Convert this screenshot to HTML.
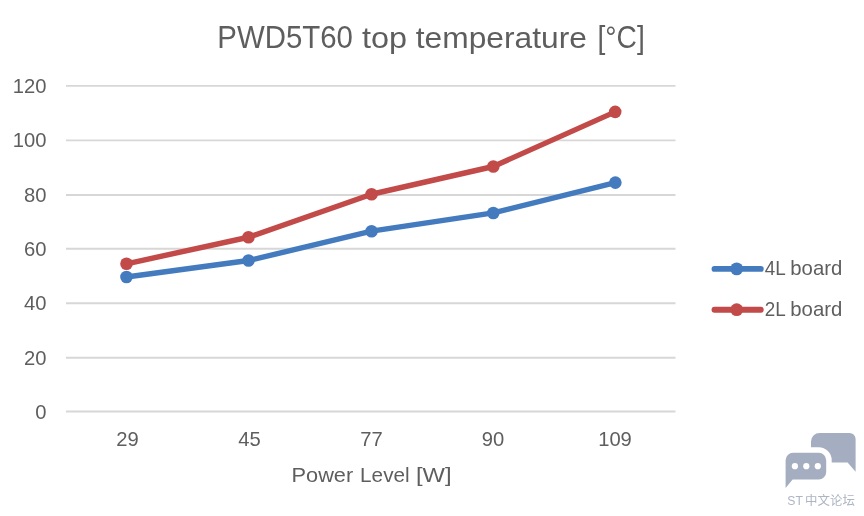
<!DOCTYPE html>
<html>
<head>
<meta charset="utf-8">
<title>PWD5T60 top temperature</title>
<style>
html,body{margin:0;padding:0;background:#fff;}
body{width:864px;height:516px;overflow:hidden;}
svg{display:block;}
text{font-family:"Liberation Sans","Noto Sans CJK SC",sans-serif;fill:#5e5e5e;}
.t{font-size:30.5px;fill:#595959;}
.a{font-size:20.2px;}
.x{font-size:21px;}
.l{font-size:19.8px;}
</style>
</head>
<body>
<svg width="864" height="516" viewBox="0 0 864 516">
<rect width="864" height="516" fill="#fff"/>
<!-- grid -->
<g stroke="#d7d7d7" stroke-width="1.9">
<line x1="66" x2="675.5" y1="85.9" y2="85.9"/>
<line x1="66" x2="675.5" y1="140.4" y2="140.4"/>
<line x1="66" x2="675.5" y1="195" y2="195"/>
<line x1="66" x2="675.5" y1="248.7" y2="248.7"/>
<line x1="66" x2="675.5" y1="303.2" y2="303.2"/>
<line x1="66" x2="675.5" y1="357.7" y2="357.7"/>
<line x1="66" x2="675.5" y1="411.5" y2="411.5"/>
</g>
<!-- title -->
<g class="t">
<text x="217.3" y="47.5" textLength="135.6" lengthAdjust="spacingAndGlyphs">PWD5T60</text>
<text x="361.9" y="47.5" font-size="29.2" textLength="45" lengthAdjust="spacingAndGlyphs">top</text>
<text x="415.8" y="47.5" font-size="29.2" textLength="171.1" lengthAdjust="spacingAndGlyphs">temperature</text>
<text x="597.5" y="47.5" textLength="47.2" lengthAdjust="spacingAndGlyphs">[°C]</text>
</g>
<!-- y labels -->
<g class="a" text-anchor="end">
<text x="46.5" y="93">120</text>
<text x="46.5" y="147.4">100</text>
<text x="46.5" y="202">80</text>
<text x="46.5" y="255.7">60</text>
<text x="46.5" y="310.2">40</text>
<text x="46.5" y="364.7">20</text>
<text x="46.5" y="418.5">0</text>
</g>
<!-- x labels -->
<g class="a" text-anchor="middle">
<text x="127.5" y="446.3">29</text>
<text x="249.5" y="446.3">45</text>
<text x="371.5" y="446.3">77</text>
<text x="493" y="446.3">90</text>
<text x="615" y="446.3">109</text>
</g>
<g class="x">
<text x="291.6" y="482" textLength="61.6" lengthAdjust="spacingAndGlyphs">Power</text>
<text x="360.1" y="482" textLength="49.5" lengthAdjust="spacingAndGlyphs">Level</text>
<text x="415.9" y="482" textLength="35.6" lengthAdjust="spacingAndGlyphs">[W]</text>
</g>
<!-- series -->
<g fill="none" stroke-width="5.4" stroke-linecap="round" stroke-linejoin="round">
<polyline stroke="#447bbf" points="126.5,277.05 248.5,260.55 371.55,231.2 493.3,212.95 615.35,182.6"/>
<polyline stroke="#c24a49" points="126.5,263.8 248.5,237.25 371.55,194.25 493.3,166.5 615.2,111.85"/>
</g>
<g fill="#447bbf">
<circle cx="126.5" cy="277.05" r="6.3"/><circle cx="248.5" cy="260.55" r="6.3"/><circle cx="371.55" cy="231.2" r="6.3"/><circle cx="493.3" cy="212.95" r="6.3"/><circle cx="615.35" cy="182.6" r="6.3"/>
</g>
<g fill="#c24a49">
<circle cx="126.5" cy="263.8" r="6.3"/><circle cx="248.5" cy="237.25" r="6.3"/><circle cx="371.55" cy="194.25" r="6.3"/><circle cx="493.3" cy="166.5" r="6.3"/><circle cx="615.2" cy="111.85" r="6.3"/>
</g>
<!-- legend -->
<g stroke-width="5.9" stroke-linecap="round">
<line x1="714.5" x2="760.8" y1="268.9" y2="268.9" stroke="#447bbf"/>
<line x1="714.5" x2="760.8" y1="309.7" y2="309.7" stroke="#c24a49"/>
</g>
<circle cx="736.7" cy="268.9" r="6.4" fill="#447bbf"/>
<circle cx="736.7" cy="309.7" r="6.4" fill="#c24a49"/>
<g class="l">
<text x="764.8" y="274.9" textLength="21" lengthAdjust="spacingAndGlyphs">4L</text>
<text x="790.3" y="274.9" textLength="52" lengthAdjust="spacingAndGlyphs">board</text>
<text x="764.8" y="315.8" textLength="21" lengthAdjust="spacingAndGlyphs">2L</text>
<text x="790.3" y="315.8" textLength="52" lengthAdjust="spacingAndGlyphs">board</text>
</g>
<!-- watermark -->
<g>
<path d="M819.5 433 H849.6 A6 6 0 0 1 855.6 439 V471.8 L847.6 462.5 H811 V441.5 A8.5 8.5 0 0 1 819.5 433 Z" fill="#a4aec0"/>
<path d="M793.1 452.8 H818.7 A7.5 7.5 0 0 1 826.2 460.3 V472 A7.5 7.5 0 0 1 818.7 479.5 H792.6 L785.6 488 V460.3 A7.5 7.5 0 0 1 793.1 452.8 Z" fill="#a4aec0" stroke="#fff" stroke-width="11" stroke-linejoin="round" paint-order="stroke"/>
<circle cx="794.9" cy="466.2" r="3.1" fill="#fff"/>
<circle cx="806.3" cy="466.2" r="3.1" fill="#fff"/>
<circle cx="817.8" cy="466.2" r="3.1" fill="#fff"/>
<text y="504.8" style="font-size:12.2px;fill:#adb5c3"><tspan x="787.3">ST</tspan><tspan x="805.1" textLength="49.8" lengthAdjust="spacingAndGlyphs">中文论坛</tspan></text>
</g>
</svg>
</body>
</html>
